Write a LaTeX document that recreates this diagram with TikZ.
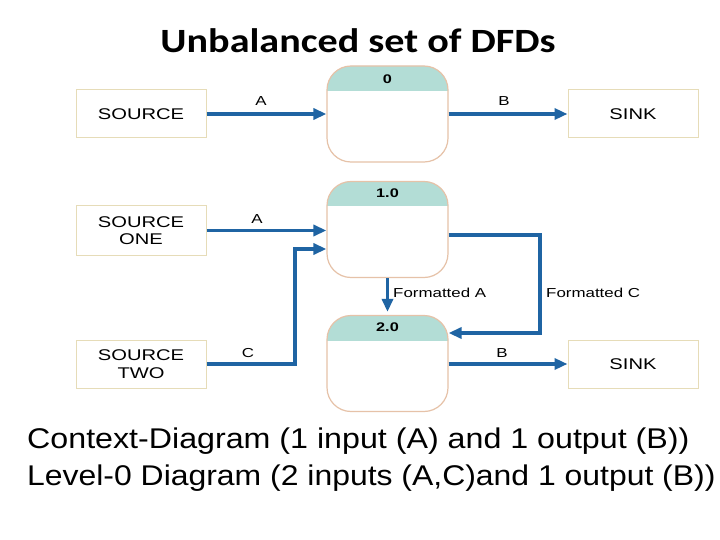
\documentclass[tikz,border=0pt]{standalone}
\usepackage{fontspec}
\setmainfont{Liberation Sans}
\newfontfamily\titlefont{Carlito}
\usetikzlibrary{arrows.meta}
\definecolor{flowblue}{HTML}{1F64A3}
\definecolor{hdrteal}{HTML}{B3DDD6}
\definecolor{procedge}{HTML}{E6C2A8}
\definecolor{boxedge}{HTML}{E6DCB8}
\newcommand\wx[1]{\scalebox{1.3}[1]{#1}}
\tikzset{
  ext/.style={draw=boxedge, line width=1pt, fill=white, minimum width=130pt, minimum height=48pt,
    align=center, font=\fontsize{15.5}{17}\selectfont, inner sep=0pt},
  proc/.style={draw=procedge, line width=1.2pt, fill=white, rounded corners=24pt,
    minimum width=121pt, minimum height=96pt, inner sep=0pt,
    path picture={\fill[hdrteal, sharp corners] ([xshift=-2pt,yshift=2pt]path picture bounding box.north west) rectangle ([xshift=2pt,yshift=-25pt]path picture bounding box.north east);}},
  pid/.style={font=\fontsize{12.5}{14}\selectfont\bfseries, inner sep=0pt},
  flow/.style={draw=flowblue, line width=3.8pt, -{Triangle[length=13pt,width=11pt]}},
  flab/.style={font=\fontsize{13}{15}\selectfont, inner sep=0pt},
  big/.style={font=\fontsize{28.5}{34}\selectfont, inner sep=0pt, anchor=base west}
}
\begin{document}
\begin{tikzpicture}[x=1pt,y=-1pt]
\useasboundingbox (0,0) rectangle (720,540);
\fill[white] (0,0) rectangle (720,540);

\node[font=\titlefont\fontsize{34}{40}\selectfont\bfseries, anchor=base, inner sep=0pt] (title) at (358,53) {\scalebox{1.18}[1]{Unbalanced set of DFDs}};

% top row (context diagram)
\node[ext] (src) at (141,114) {\wx{SOURCE}};
\node[proc] (p0) at (387.5,114) {};
\node[pid] (p0id) at (387.5,79) {\wx{0}};
\node[ext] (snk) at (633,114) {\wx{SINK}};
\draw[flow] (src.east) -- (p0.west);
\draw[flow] (p0.east) -- (snk.west);
\node[flab] (la) at (261,101) {\wx{A}};
\node[flab] (lb) at (504,101) {\wx{B}};

% level-0 diagram
\node[ext, minimum height=49pt, font=\fontsize{15.5}{17.5}\selectfont] (s1) at (141,230.5) {\wx{SOURCE}\\\wx{ONE}};
\node[ext, font=\fontsize{15.5}{17.5}\selectfont] (s2) at (141,364) {\wx{SOURCE}\\\wx{TWO}};
\node[proc] (p1) at (387.5,229.5) {};
\node[pid] (p1id) at (387.5,193.5) {\wx{1.0}};
\node[proc] (p2) at (387.5,363.5) {};
\node[pid] (p2id) at (387.5,327.5) {\wx{2.0}};
\node[ext] (snk2) at (633,364) {\wx{SINK}};

\coordinate (cbend) at (295,249);
\coordinate (fcbend) at (540,333);
\draw[flow] (s1.east) -- (p1.west |- s1.east);
\draw[flow] (s2.east) -| (cbend) -- (cbend -| p1.west);
\draw[flow, shorten >=3pt] (p1.south) -- (p2.north);
\draw[flow] ([yshift=-5.5pt]p1.east) -| (fcbend) -- (fcbend -| p2.east);
\draw[flow] (p2.east |- s2.east) -- (snk2.west);

\node[flab] (la2) at (257,219) {\wx{A}};
\node[flab] (lc) at (248,353) {\wx{C}};
\node[flab] (lb2) at (502,353) {\wx{B}};
\node[flab, anchor=west] (lfa) at (393,292.5) {\wx{Formatted A}};
\node[flab, anchor=west] (lfc) at (546,293) {\wx{Formatted C}};

% caption
\node[big] (cap1) at (27,448) {\scalebox{1.13}[1]{Context-Diagram (1 input (A) and 1 output (B))}};
\node[big] (cap2) at (27,485) {\scalebox{1.12}[1]{Level-0 Diagram (2 inputs (A,C)and 1 output (B))}};
\end{tikzpicture}
\end{document}
